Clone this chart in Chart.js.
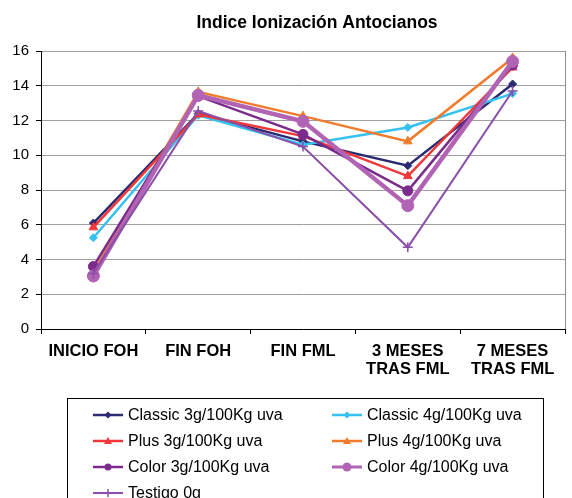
<!DOCTYPE html>
<html>
<head>
<meta charset="utf-8">
<script src="https://cdn.jsdelivr.net/npm/chart.js@4/dist/chart.umd.min.js"></script>
<style>
  html, body { margin: 0; padding: 0; background: #fff; }
  #wrap { position: relative; width: 572px; height: 498px; overflow: hidden; }
  canvas { position: absolute; left: 0; top: 0; }
  #legend { position: absolute; left: 67px; top: 398px; width: 477px; height: 120px;
            border: 1px solid #000; box-sizing: border-box; font-family: "Liberation Sans", Arial, sans-serif;
            font-size: 16px; color: #000; }
  .item { position: absolute; height: 20px; line-height: 20px; white-space: nowrap; }
  .item svg { position: absolute; left: 0; top: 0; }
  .item span { position: absolute; left: 35px; top: 0; }
</style>
</head>
<body>
<div id="wrap">
  <canvas id="c" width="572" height="498"></canvas>
  <div id="legend"></div>
</div>
<script>
const titleText = 'Indice Ionización Antocianos';
const categories = ['INICIO FOH', 'FIN FOH', 'FIN FML', ['3 MESES', 'TRAS FML'], ['7 MESES', 'TRAS FML']];
const yTicks = [0, 2, 4, 6, 8, 10, 12, 14, 16];

const seriesNames = ['Classic 3g/100Kg uva', 'Classic 4g/100Kg uva', 'Plus 3g/100Kg uva',
                     'Plus 4g/100Kg uva', 'Color 3g/100Kg uva', 'Color 4g/100Kg uva', 'Testigo 0g'];
const classic3 = [6.1, 12.4, 10.8, 9.4, 14.1];
const classic4 = [5.25, 12.3, 10.6, 11.6, 13.55];
const plus3    = [5.85, 12.35, 11.1, 8.8, 15.05];
const plus4    = [3.3, 13.65, 12.25, 10.8, 15.6];
const color3   = [3.6, 13.4, 11.2, 7.95, 15.2];
const color4   = [3.05, 13.45, 11.95, 7.1, 15.4];
const testigo  = [3.2, 12.55, 10.5, 4.7, 13.7];
const seriesValues = [classic3, classic4, plus3, plus4, color3, color4, testigo];

const styles = [
  { color: '#2B2A72', point: 'rectRot', r: 4, w: 2.5 },
  { color: '#35C2F0', point: 'rectRot', r: 4, w: 2.5 },
  { color: '#F0383A', point: 'triangle', r: 5, w: 2.5 },
  { color: '#F07B2C', point: 'triangle', r: 5, w: 2.5 },
  { color: '#7A2B8C', point: 'circle', r: 5, w: 2.5 },
  { color: '#B264B4', point: 'circle', r: 6, w: 4.5 },
  { color: '#8B4FA8', point: 'cross', r: 5, w: 2 }
];

const datasets = seriesValues.map((vals, i) => ({
  label: seriesNames[i],
  data: vals,
  borderColor: styles[i].color,
  backgroundColor: styles[i].color,
  borderWidth: styles[i].w,
  pointStyle: styles[i].point,
  pointRadius: styles[i].r,
  pointBorderWidth: styles[i].point === 'cross' ? 1.5 : 1,
  pointBorderColor: styles[i].color,
  pointBackgroundColor: styles[i].color,
  tension: 0,
  order: 20 - i
}));

const FONT = '"Liberation Sans", Arial, sans-serif';

const decor = {
  id: 'decor',
  afterDraw(chart) {
    const ctx = chart.ctx;
    const a = chart.chartArea;
    ctx.save();
    ctx.strokeStyle = '#8C8C8C';
    ctx.lineWidth = 1;
    ctx.beginPath();
    ctx.moveTo(Math.round(a.right) + 0.5, a.top);
    ctx.lineTo(Math.round(a.right) + 0.5, a.bottom);
    ctx.stroke();
    ctx.fillStyle = '#000';
    ctx.font = 'bold 17.5px ' + FONT;
    ctx.textAlign = 'center';
    ctx.textBaseline = 'middle';
    ctx.fillText(titleText, 317, 23);
    ctx.restore();
  }
};

new Chart(document.getElementById('c'), {
  type: 'line',
  data: { labels: categories, datasets },
  options: {
    responsive: false,
    animation: false,
    events: [],
    layout: { padding: { left: 0, right: 2, top: 51, bottom: 0 } },
    plugins: { legend: { display: false }, title: { display: false }, tooltip: { enabled: false } },
    scales: {
      x: {
        offset: true,
        grid: { offset: true, drawOnChartArea: false, drawTicks: true, tickLength: 5, tickColor: '#000' },
        border: { color: '#000', width: 1 },
        ticks: { color: '#000', font: { family: FONT, size: 16.5, weight: 'bold', lineHeight: 1.12 },
                 padding: 8, maxRotation: 0, autoSkip: false },
        afterFit(s) { s.height = 169; s.paddingLeft = 0; s.paddingRight = 0; }
      },
      y: {
        min: 0, max: 16,
        afterBuildTicks(s) { s.ticks = yTicks.map(v => ({ value: v })); },
        grid: { color: '#A0A0A0', lineWidth: 1, drawTicks: true, tickLength: 5, tickColor: '#000' },
        border: { color: '#000', width: 1 },
        ticks: { color: '#000', font: { family: FONT, size: 15 }, padding: 7 },
        afterFit(s) { s.width = 41; }
      }
    }
  },
  plugins: [decor]
});

// HTML legend
const legend = document.getElementById('legend');
const colX = [25, 264];
const rowY = [6, 32, 58, 84];
seriesNames.forEach((name, i) => {
  const st = styles[i];
  const div = document.createElement('div');
  div.className = 'item';
  div.style.left = colX[i % 2] + 'px';
  div.style.top = rowY[Math.floor(i / 2)] + 'px';
  let marker = '';
  const cx = 15, cy = 10;
  if (st.point === 'rectRot') {
    marker = `<polygon points="${cx},${cy-3.5} ${cx+3.5},${cy} ${cx},${cy+3.5} ${cx-3.5},${cy}" fill="${st.color}"/>`;
  } else if (st.point === 'triangle') {
    marker = `<polygon points="${cx},${cy-4} ${cx+4},${cy+3} ${cx-4},${cy+3}" fill="${st.color}"/>`;
  } else if (st.point === 'circle') {
    marker = `<circle cx="${cx}" cy="${cy}" r="${st.r - 1.5}" fill="${st.color}"/>`;
  } else {
    marker = `<line x1="${cx}" y1="${cy-4}" x2="${cx}" y2="${cy+4}" stroke="${st.color}" stroke-width="1.5"/>`;
  }
  const lw = Math.min(st.w, 3);
  div.innerHTML = `<svg width="32" height="20"><line x1="0" y1="${cy}" x2="30" y2="${cy}" stroke="${st.color}" stroke-width="${lw}"/>${marker}</svg><span>${name}</span>`;
  legend.appendChild(div);
});
</script>
</body>
</html>
